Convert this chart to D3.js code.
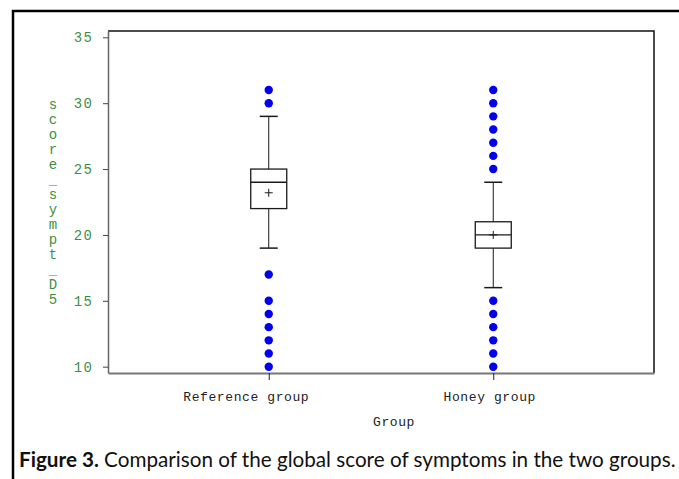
<!DOCTYPE html>
<html>
<head>
<meta charset="utf-8">
<script src="https://cdn.jsdelivr.net/npm/d3@7"></script>
<style>
  html, body { margin: 0; padding: 0; background: #fff; }
</style>
</head>
<body>
<svg id="chart" width="679" height="479"></svg>
<script>
// chart values
var groups = ["Reference group", "Honey group"];
var whiskerLow = [19, 16];
var q1 = [22, 19];
var medians = [24, 20];
var q3 = [25, 21];
var whiskerHigh = [29, 24];
var means = [23.2, 20];
var outliers = [
  [10, 11, 12, 13, 14, 15, 17, 30, 31],
  [10, 11, 12, 13, 14, 15, 25, 26, 27, 28, 29, 30, 31]
];
var yTicks = [10, 15, 20, 25, 30, 35];
var yLabel = "score_sympt_D5";
var xLabel = "Group";

(function () {
  var svg = d3.select("#chart");
  var pLeft = 108, pRight = 654, pTop = 31, pBottom = 373;
  var green = "#3f8f3f";
  var mono = "'Liberation Mono', 'Courier New', monospace";

  // outer frame of the figure
  svg.append("path")
    .attr("d", "M13,479 L13,11 L679,11")
    .attr("fill", "none")
    .attr("stroke", "#000")
    .attr("stroke-width", 2.5);

  var x = d3.scalePoint().domain(groups).range([pLeft, pRight]).padding(0.716);
  var y = d3.scaleLinear().domain([9.52, 35.48]).range([pBottom, pTop]);

  // plot border (top / right black, axes gray)
  svg.append("path")
    .attr("d", "M" + pLeft + "," + pTop + " L" + pRight + "," + pTop + " L" + pRight + "," + pBottom)
    .attr("fill", "none").attr("stroke", "#111").attr("stroke-width", 1.5);

  var yAxis = svg.append("g")
    .attr("transform", "translate(" + pLeft + ",0)")
    .call(d3.axisLeft(y).tickValues(yTicks).tickSize(5).tickPadding(9.5).tickSizeOuter(0));
  yAxis.select(".domain").attr("stroke", "#666").attr("stroke-width", 1.5);
  yAxis.selectAll(".tick line").attr("stroke", "#444");
  yAxis.selectAll(".tick text")
    .attr("fill", green)
    .style("font-family", mono)
    .style("font-size", "14px")
    .style("letter-spacing", "1.5px");

  var xAxis = svg.append("g")
    .attr("transform", "translate(0," + pBottom + ")")
    .call(d3.axisBottom(x).tickSize(7).tickPadding(12).tickSizeOuter(0));
  xAxis.select(".domain").attr("stroke", "#777").attr("stroke-width", 2);
  xAxis.selectAll(".tick line").attr("stroke", "#222");
  xAxis.selectAll(".tick text")
    .attr("fill", "#222")
    .attr("dx", function (d, i) { return i === 0 ? -23 : -4; })
    .style("font-family", mono)
    .style("font-size", "13px")
    .style("letter-spacing", "0.6px");

  // boxes
  var bw = 36, cw = 18, ink = "#1a1a1a";
  var box = svg.append("g").selectAll("g")
    .data(groups)
    .enter().append("g");

  box.append("line")
    .attr("x1", function (d) { return x(d); }).attr("x2", function (d) { return x(d); })
    .attr("y1", function (d, i) { return y(whiskerLow[i]); })
    .attr("y2", function (d, i) { return y(whiskerHigh[i]); })
    .attr("stroke", ink);
  box.append("rect")
    .attr("x", function (d) { return x(d) - bw / 2; })
    .attr("width", bw)
    .attr("y", function (d, i) { return y(q3[i]); })
    .attr("height", function (d, i) { return y(q1[i]) - y(q3[i]); })
    .attr("fill", "#fff").attr("stroke", ink).attr("stroke-width", 1.3);
  box.append("line")
    .attr("x1", function (d) { return x(d) - bw / 2; }).attr("x2", function (d) { return x(d) + bw / 2; })
    .attr("y1", function (d, i) { return y(medians[i]); })
    .attr("y2", function (d, i) { return y(medians[i]); })
    .attr("stroke", ink).attr("stroke-width", 1.3);
  [whiskerLow, whiskerHigh].forEach(function (arr) {
    box.append("line")
      .attr("x1", function (d) { return x(d) - cw / 2; }).attr("x2", function (d) { return x(d) + cw / 2; })
      .attr("y1", function (d, i) { return y(arr[i]); })
      .attr("y2", function (d, i) { return y(arr[i]); })
      .attr("stroke", ink).attr("stroke-width", 1.5);
  });
  // mean marker
  box.append("path")
    .attr("d", function (d, i) {
      var cx = x(d), cy = y(means[i]);
      return "M" + (cx - 4) + "," + cy + "H" + (cx + 4) + "M" + cx + "," + (cy - 4) + "V" + (cy + 4);
    })
    .attr("stroke", ink);

  // outliers
  box.selectAll("circle")
    .data(function (d, i) { return outliers[i].map(function (v) { return { g: d, v: v }; }); })
    .enter().append("circle")
    .attr("cx", function (d) { return x(d.g); })
    .attr("cy", function (d) { return y(d.v); })
    .attr("r", 4.2)
    .attr("fill", "#0000ee");

  // stacked y label
  svg.append("g").selectAll("text")
    .data(yLabel.split(""))
    .enter().append("text")
    .attr("x", 53)
    .attr("y", function (d, i) { return 109 + i * 15; })
    .attr("text-anchor", "middle")
    .attr("fill", green)
    .style("font-family", mono)
    .style("font-size", "14px")
    .text(function (d) { return d; });

  svg.append("text")
    .attr("x", 394).attr("y", 426)
    .attr("text-anchor", "middle")
    .attr("fill", "#222")
    .style("font-family", mono)
    .style("font-size", "13px")
    .style("letter-spacing", "0.6px")
    .text(xLabel);

  // caption
  var cap = svg.append("text")
    .attr("x", 19).attr("y", 467)
    .attr("fill", "#111")
    .style("font-family", "Lato, 'Noto Sans', sans-serif")
    .style("font-size", "16px");
  cap.append("tspan").style("font-weight", "bold").text("Figure 3.");
  cap.append("tspan").text(" Comparison of the global score of symptoms in the two groups.");
  var len = cap.node().getComputedTextLength();
  cap.style("font-size", (16 * 657 / len) + "px");
})();
</script>
</body>
</html>
